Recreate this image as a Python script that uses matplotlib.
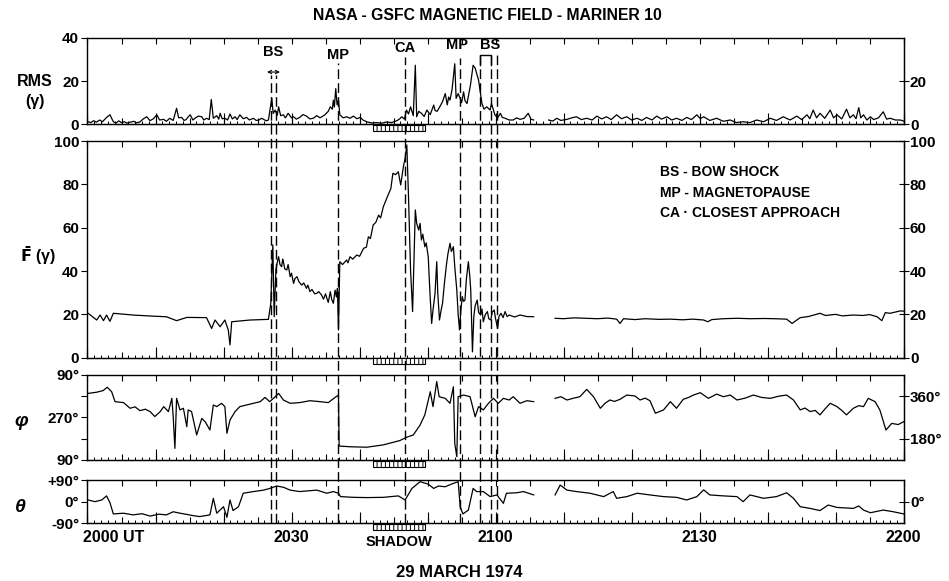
import numpy as np
import matplotlib.pyplot as plt
from matplotlib.ticker import MultipleLocator
from matplotlib.patches import Rectangle

plt.rcParams['font.family'] = ['Liberation Sans', 'DejaVu Sans']
plt.rcParams['font.weight'] = 'bold'
plt.rcParams['mathtext.fontset'] = 'dejavusans'
plt.rcParams['hatch.linewidth'] = 0.7

# --- data; time in minutes after 2000 UT ------------------------------------
rms_t = [0.1, 0.5, 0.9, 1.3, 1.8, 2.2, 2.8, 3.3, 3.8, 4.2, 4.6, 5.0, 5.4, 5.8,
         6.3, 6.8, 7.2, 7.7, 8.2, 8.7, 9.2, 9.7, 10.2, 10.6, 11.2, 11.6, 12.1,
         12.6, 13.1, 13.4, 13.85, 14.2, 14.5, 14.8, 15.1, 15.5, 15.8, 16.3,
         16.8, 17.1, 17.5, 17.9, 18.2, 18.5, 19.0, 19.3, 19.5, 19.8, 20.2,
         20.6, 20.95, 21.3, 21.7, 22.0, 22.4, 22.9, 23.4, 23.8, 24.4, 24.8,
         25.2, 25.6, 25.9, 26.3, 26.6, 27.1, 27.3, 27.6, 27.9, 28.1, 28.4,
         28.8, 29.1, 29.5, 30.0, 30.3, 30.7, 31.2, 31.7, 32.2, 32.7, 33.2,
         33.7, 34.2, 34.9, 35.4, 35.7, 36.0, 36.15, 36.3, 36.5, 36.7, 36.9,
         37.1, 37.6, 38.1, 38.6, 39.1, 39.6, 40.1, 40.5, 41.05, 41.8, 42.5,
         43.2, 44.0, 44.7, 45.5, 45.9, 46.2, 46.6, 46.9, 47.2, 47.5, 47.9,
         48.2, 48.4, 48.7, 49.1, 49.5, 49.9, 50.4, 50.9, 51.1, 51.4, 51.8,
         52.2, 52.6, 52.9, 53.1, 53.3, 53.6, 54.0, 54.2, 54.5, 54.8, 55.0,
         55.3, 55.5, 55.8, 56.3, 56.7, 57.0, 57.5, 58.0, 58.3, 58.7, 59.2,
         59.4, 59.9, 60.3, 60.7, 61.0, 61.4, 62.0, 62.6, 63.1, 63.6, 64.2,
         64.8, 65.2, 65.6, 66.0, 67.8, 68.4, 69.0, 69.6, 70.5, 71.2, 71.9,
         72.6, 73.4, 74.2, 74.9, 75.6, 76.3, 77.0, 77.8, 78.5, 79.3, 80.0,
         80.8, 81.5, 82.2, 83.0, 83.7, 84.4, 85.2, 85.9, 86.6, 87.4, 88.1,
         88.8, 89.6, 90.1, 90.6, 91.5, 92.5, 93.5, 94.5, 95.4, 96.4, 97.4,
         98.4, 99.4, 100.4, 101.3, 102.3, 103.3, 104.3, 105.0, 105.8, 106.2,
         106.7, 107.2, 107.7, 108.4, 109.2, 109.7, 110.2, 110.9, 111.6,
         112.1, 112.6, 113.0, 113.4, 113.7, 114.1, 114.6, 115.1, 115.6,
         116.3, 117.0, 117.5, 118.0, 118.8, 119.5, 120.0]
rms_v = [1.2, 0.8, 1.7, 1.0, 2.0, 1.2, 3.2, 4.4, 1.2, 0.6, 1.6, 0.8, 1.2, 0.6,
         1.0, 1.4, 0.7, 1.1, 2.5, 3.5, 1.7, 2.6, 4.4, 2.0, 2.3, 1.4, 2.8,
         1.8, 7.4, 3.0, 3.2, 1.8, 2.2, 3.4, 4.4, 2.0, 2.8, 3.8,
         3.5, 2.0, 2.8, 2.2, 11.5, 2.8, 4.0, 2.4, 5.1, 2.6, 2.8,
         2.0, 4.8, 2.5, 3.5, 2.2, 4.4, 2.6, 3.2, 2.0, 2.8, 1.8,
         2.0, 2.8, 2.3, 1.6, 2.0, 12.0, 5.0, 6.6, 4.2, 8.1, 4.0,
         4.4, 3.0, 5.1, 3.0, 3.5, 2.4, 3.2, 4.5, 3.8, 2.5, 2.8,
         4.0, 3.0, 4.4, 6.0, 8.1, 7.0, 11.2, 8.0, 16.5, 9.0, 11.2,
         4.4, 3.0, 3.5, 2.8, 3.8, 2.6, 3.2, 2.0, 1.2, 0.6, 0.8,
         0.5, 1.1, 0.8, 1.7, 2.5, 3.5, 2.4, 6.6, 4.8, 8.1, 4.0,
         27.3, 3.5, 6.0, 5.1, 3.6, 6.6, 4.5, 8.9, 6.4, 6.0, 8.1,
         10.5, 14.2, 9.0, 12.6, 11.2, 16.0, 28.0, 12.0, 14.2, 12.0, 10.0,
         15.0, 11.0, 9.6, 18.0, 27.3, 26.0, 20.4, 9.6, 7.0, 8.1, 6.6,
         9.6, 4.4, 3.0, 5.1, 3.2, 2.8, 2.0, 2.0, 3.0, 2.3, 2.8,
         5.1, 2.4, 2.0, np.nan, 2.0, 1.5, 2.8, 1.8, 2.3, 3.0, 3.5,
         2.2, 2.8, 2.0, 3.8, 2.5, 3.5, 2.2, 4.4, 2.6, 3.5, 2.0,
         2.8, 1.8, 3.2, 2.0, 3.8, 2.4, 3.5, 2.0, 2.8, 1.8, 3.2,
         2.2, 4.4, 2.6, 3.5, 1.8, 2.8, 1.4, 2.0, 0.8, 1.2, 0.8,
         2.0, 1.2, 2.8, 1.8, 3.5, 2.0, 3.8, 2.2, 4.4, 2.6,
         6.6, 3.0, 5.1, 2.8, 6.6, 3.0, 4.4, 2.5, 7.0,
         3.0, 4.4, 2.6, 7.7, 3.0, 4.4, 2.0, 3.5, 2.2,
         3.0, 5.8, 2.4, 2.8, 2.0, 2.0, 1.5]

f_t = [0.1, 1.35, 1.85, 2.35, 2.8, 3.3, 3.8, 6.7, 9.5, 11.6, 13.1, 14.6, 17.5,
       18.25, 18.75, 19.5, 20.2, 20.7, 20.95, 21.2, 23.9, 26.6, 26.95, 27.25,
       27.45, 27.7, 27.9, 28.1, 28.3, 28.55, 28.7, 28.8, 29.0, 29.3, 29.5,
       29.8, 30.0, 30.3, 30.5, 30.8, 31.1, 31.5, 31.8, 32.2, 32.4, 32.7,
       33.0, 33.4, 33.7, 34.0, 34.4, 34.7, 35.0, 35.2, 35.4, 35.7, 35.9,
       36.15, 36.3, 36.4, 36.6, 36.75, 36.9, 37.1, 37.5, 38.1, 38.3, 38.6,
       39.0, 39.6, 40.0, 40.6, 41.0, 41.3, 41.6, 42.0, 42.4, 42.8, 43.1,
       43.5, 44.2, 44.6, 44.9, 45.3, 45.7, 46.05, 46.45, 46.7, 46.95, 47.2,
       47.5, 47.8, 48.0, 48.2, 48.4, 48.7, 48.9, 49.1, 49.3, 49.6, 49.8,
       50.1, 50.35, 50.6, 50.8, 51.1, 51.35, 51.5, 51.75, 52.0, 52.2, 52.5,
       52.8, 53.0, 53.3, 53.5, 53.8, 54.0, 54.3, 54.5, 54.7, 54.9, 55.1,
       55.3, 55.5, 55.7, 56.0, 56.2, 56.35, 56.6, 56.8, 57.0, 57.3, 57.5,
       57.8, 58.0, 58.2, 58.5, 58.8, 59.0, 59.3, 59.5, 59.8, 60.0, 60.3,
       60.5, 60.8, 61.1, 61.4, 61.7, 62.0, 62.8, 63.6, 64.6, 65.6, 66.5,
       68.75, 70.0, 71.5, 73.4, 75.0, 76.5, 77.8, 78.3, 78.8, 80.5, 82.0,
       84.0, 85.7, 87.5, 89.0, 90.6, 91.2, 91.8, 93.5, 95.5, 97.5, 99.5,
       101.0, 102.8, 103.6, 104.2, 104.8, 106.0, 107.7, 108.5, 110.0,
       111.0, 112.6, 114.0, 115.0, 116.1, 116.8, 117.3, 118.0, 119.5, 120.0]
f_v = [20.5, 17.4, 19.7, 17.1, 19.7, 16.8, 20.5, 19.7, 19.2, 18.9, 17.1, 18.6, 18.5,
       13.5, 17.4, 14.3, 17.4, 12.8, 5.9, 16.6, 17.4, 17.7, 25.1, 52.1,
       18.9, 40.5, 44.0, 46.6, 43.0, 42.0, 45.5, 44.3, 41.0, 40.5, 43.0,
       37.4, 39.0, 34.3, 36.5, 37.4, 35.0, 33.5, 34.5, 32.0, 33.5, 30.5,
       31.5, 29.5, 29.7, 30.5, 29.0, 27.0, 29.5, 27.4, 25.5, 30.5, 27.0,
       25.1, 29.0, 31.2, 28.0, 32.0, 12.8, 44.3, 43.0, 45.1, 43.8, 46.6,
       45.5, 47.4, 46.8, 50.5, 51.0, 55.8, 55.0, 61.2, 62.5, 65.8, 64.5,
       69.7, 75.1, 78.0, 85.1, 84.5, 85.8, 79.7, 88.2, 92.0, 98.2, 74.3,
       40.5, 21.3, 45.0, 68.2, 62.0, 58.9, 62.0, 54.3, 57.0, 51.2, 53.0,
       46.6, 30.0, 15.8, 22.0, 29.7, 44.3, 30.0, 17.4, 22.0, 25.1, 35.0,
       43.5, 48.0, 52.8, 49.0, 51.2, 42.0, 31.2, 20.0, 12.8, 22.0, 28.2,
       26.0, 26.6, 36.0, 44.3, 38.0, 31.2, 2.7, 18.9, 24.0, 26.6, 21.0,
       19.7, 22.5, 16.6, 20.0, 21.3, 18.0, 17.4, 21.0, 22.0, 18.0, 13.5,
       19.0, 20.5, 18.5, 21.3, 19.0, 19.7, 18.8, 19.7, 19.0, 18.9, np.nan,
       18.2, 18.0, 18.4, 18.2, 18.0, 18.3, 17.8, 15.8, 18.0, 17.6, 18.0,
       17.7, 17.8, 17.5, 17.8, 17.4, 16.6, 17.6, 18.0, 18.2, 18.0, 18.1,
       18.0, 17.8, 15.8, 17.2, 18.5, 19.0, 20.5, 19.5, 20.0,
       19.3, 19.7, 19.5, 19.9, 18.9, 17.1, 20.8, 20.5, 21.6, 21.5]

phi_t = [0.1, 1.35, 2.3, 2.9, 3.55, 4.05, 5.3, 6.25, 7.0, 7.7, 8.5, 9.2, 9.9,
         10.7, 11.2, 11.9, 12.4, 12.6, 12.85, 13.1, 13.6, 14.1, 14.6, 14.8,
         15.3, 16.05, 16.8, 17.3, 18.0, 18.5, 19.0, 19.7, 20.2, 20.5, 20.95,
         21.7, 22.4, 23.4, 24.4, 25.4, 26.1, 26.8, 27.6, 28.1, 28.8, 29.8,
         31.2, 32.7, 34.2, 35.4, 36.4, 36.9, 37.0, 38.6, 41.05, 43.5, 45.9,
         46.9, 47.9, 48.9, 49.6, 50.4, 50.8, 51.35, 51.7, 52.6, 53.3, 53.8,
         54.0, 54.3, 54.5, 55.3, 56.25, 57.0, 57.5, 58.2, 58.95, 59.7, 60.4,
         61.15, 62.0, 62.6, 63.6, 64.6, 65.6, 66.0, 68.75, 69.6, 70.5, 71.5,
         72.4, 73.4, 74.4, 75.4, 76.1, 76.8, 77.5, 78.3, 79.3, 80.5, 81.25,
         82.0, 82.7, 83.5, 84.7, 85.7, 86.6, 87.6, 88.4, 89.1, 90.1, 91.3,
         92.5, 93.5, 94.5, 95.5, 96.7, 97.9, 99.1, 100.4, 101.6, 102.8,
         103.8, 104.8, 105.5, 106.25, 107.0, 107.7, 108.4, 109.2, 110.2,
         110.9, 111.6, 112.6, 113.4, 114.1, 114.8, 115.8, 116.5, 117.4,
         118.25, 119.2, 120.0]
phi_v = [372, 377, 384, 398, 379, 337, 333, 309, 315, 299, 305, 295, 274,
         295, 316, 295, 351, 274, 139, 351, 302, 309, 231, 302,
         295, 196, 266, 252, 217, 323, 316, 330, 316, 203, 259,
         295, 316, 323, 330, 337, 355, 337, 358, 372, 344, 330,
         333, 341, 337, 333, 355, 365, 149, 146, 144, 154, 172,
         186, 196, 238, 281, 379, 316, 422, 358, 351, 330, 400,
         160, 104, 358, 365, 358, 273, 316, 302, 330, 351, 330,
         351, 344, 358, 330, 341, 337, np.nan, 351, 358, 344, 352,
         358, 389, 358, 309, 330, 344, 338, 347, 365, 361, 344,
         352, 341, 288, 302, 337, 309, 347, 355, 365, 375, 351,
         369, 358, 365, 344, 352, 365, 355, 351, 360, 365,
         344, 302, 310, 295, 300, 281, 305, 330, 316,
         300, 281, 309, 320, 316, 351, 337, 302, 217,
         245, 240, 252]

theta_t = [0.1, 1.1, 2.1, 2.8, 3.3, 3.8, 5.3, 6.7, 8.0, 9.2, 10.5, 11.6, 12.6,
           13.6, 14.6, 15.5, 16.5, 18.0, 18.5, 19.0, 20.0, 20.5, 20.95, 21.4,
           22.2, 22.9, 24.4, 25.9, 26.8, 27.8, 28.8, 29.8, 31.2, 33.7, 35.2,
           36.15, 36.9, 37.2, 39.1, 41.05, 43.5, 45.7, 46.7, 47.7, 48.9, 50.1,
           50.9, 51.6, 52.6, 53.5, 54.5, 54.8, 55.2, 56.0, 56.7, 57.2, 58.2,
           59.2, 60.2, 61.15, 61.6, 63.1, 64.1, 65.6, 66.0, 68.75, 69.5, 70.5,
           71.9, 73.9, 75.9, 77.3, 77.8, 79.3, 80.8, 82.7, 84.7, 86.6, 88.1,
           89.6, 90.6, 91.5, 93.5, 95.5, 96.4, 97.4, 99.4, 101.3, 102.8,
           103.8, 104.8, 106.25, 107.7, 108.9, 110.2, 112.6, 113.4, 114.1,
           115.1, 117.0, 118.5, 120.0]
theta_v = [7, 0, 7, 24, -4, -51, -48, -55, -50, -60, -52, -55, -42,
           -48, -53, -58, -62, -55, 14, -48, -21, -65, 7, -37,
           -21, 35, 42, 48, 55, 65, 60, 48, 42, 48, 35,
           42, 35, 21, 18, 17, 18, 24, 7, 55, 83, 73,
           55, 65, 62, 73, 83, -21, -51, -35, 55, 42, 42,
           21, 28, -7, 35, 37, 42, 28, np.nan, 28, 69, 48,
           42, 35, 21, 42, 14, 21, 35, 28, 21, 18, 7,
           21, 49, 28, 24, 21, 0, 28, 14, 21, 37,
           14, -21, -28, -37, -14, -24, -28, -18, -35,
           -46, -35, -42, -51]

# boundary crossings (minutes after 2000 UT)
bs_in = [27.0, 27.7]
mp_in = 36.9
ca = 46.7
mp_out = 54.7
bs_out = [57.7, 59.3, 60.2]
shadow = (42.0, 49.6)

time_labels = ['2000 UT', '2030', '2100', '2130', '2200']
time_ticks = [0, 30, 60, 90, 120]

# --- layout -----------------------------------------------------------------
fig = plt.figure(figsize=(9.49, 5.81), dpi=100)
L, W = 0.0922, 0.860
ax_rms = fig.add_axes([L, 0.786, W, 0.149])
ax_f = fig.add_axes([L, 0.3843, W, 0.373])
ax_phi = fig.add_axes([L, 0.2083, W, 0.1463])
ax_th = fig.add_axes([L, 0.0993, W, 0.0745])
axes = [ax_rms, ax_f, ax_phi, ax_th]

ax_rms.plot(rms_t, rms_v, color='k', lw=0.9)
ax_f.plot(f_t, f_v, color='k', lw=0.9)
ax_phi.plot(phi_t, phi_v, color='k', lw=0.9)
ax_th.plot(theta_t, theta_v, color='k', lw=0.9)

TICK_FS = 11

for ax in axes:
    ax.set_xlim(0, 120)
    ax.xaxis.set_major_locator(MultipleLocator(5))
    ax.xaxis.set_minor_locator(MultipleLocator(1))
    ax.tick_params(axis='x', which='major', direction='in', length=4,
                   top=True, bottom=True, labelbottom=False, width=0.8)
    ax.tick_params(axis='x', which='minor', direction='in', length=2,
                   top=False, bottom=True, width=0.7)
    sec = ax.secondary_xaxis('bottom')
    sec.set_xticks(range(0, 121, 10))
    sec.tick_params(direction='in', length=8, labelbottom=False, width=0.8)
    ax.tick_params(axis='y', direction='out', length=4, labelsize=TICK_FS,
                   width=0.8, pad=2)
    for s in ax.spines.values():
        s.set_linewidth(1.0)


def right_ticks(ax, ticks, labels):
    sec = ax.secondary_yaxis('right')
    sec.set_yticks(ticks)
    sec.set_yticklabels(labels)
    sec.tick_params(direction='inout', length=7, labelsize=TICK_FS, width=0.8, pad=1)


ax_rms.set_ylim(0, 40)
ax_rms.set_yticks([0, 20, 40])
right_ticks(ax_rms, [0, 20], ['0', '20'])

ax_f.set_ylim(0, 100)
ax_f.set_yticks(range(0, 101, 20))
right_ticks(ax_f, range(0, 101, 20), [str(v) for v in range(0, 101, 20)])

ax_phi.set_ylim(90, 450)
ax_phi.set_yticks([90, 180, 270, 360, 450])
ax_phi.set_yticklabels(['90°', '', '270°', '', '90°'])
right_ticks(ax_phi, [180, 360], ['180°', '360°'])

ax_th.set_ylim(-90, 90)
ax_th.set_yticks([-90, 0, 90])
ax_th.set_yticklabels(['-90°', '0°', '+90°'])
right_ticks(ax_th, [0], ['0°'])

for t, lab in zip(time_ticks, time_labels):
    if t == 0:
        ax_th.text(t - 0.7, -0.16, lab, transform=ax_th.get_xaxis_transform(),
                   ha='left', va='top', fontsize=11.5)
    else:
        ax_th.text(t, -0.16, lab, transform=ax_th.get_xaxis_transform(),
                   ha='center', va='top', fontsize=11.5)

# axis names
fig.text(0.037, 0.859, 'RMS', ha='center', va='center', fontsize=11.5)
fig.text(0.037, 0.826, '(γ)', ha='center', va='center', fontsize=11.5)
fig.text(0.040, 0.561, r'$\bar{\mathbf{F}}$ (γ)', ha='center', va='center', fontsize=11.5)
fig.text(0.022, 0.274, 'φ', ha='center', va='center', fontsize=14, style='italic')
fig.text(0.022, 0.127, 'θ', ha='center', va='center', fontsize=14, style='italic')

fig.text(0.514, 0.974, 'NASA - GSFC MAGNETIC FIELD - MARINER 10',
         ha='center', va='center', fontsize=11.3)
fig.text(0.484, 0.014, '29 MARCH 1974', ha='center', va='center', fontsize=12)

# key
fig.text(0.6955, 0.704, 'BS - BOW SHOCK', ha='left', va='center', fontsize=10)
fig.text(0.6955, 0.668, 'MP - MAGNETOPAUSE', ha='left', va='center', fontsize=10)
fig.text(0.6955, 0.633, 'CA · CLOSEST APPROACH', ha='left', va='center', fontsize=10)

# overlay for crossing lines and shadow bars (y in figure fraction)
ov = fig.add_axes([L, 0, W, 1], zorder=10)
ov.set_xlim(0, 120)
ov.set_ylim(0, 1)
ov.axis('off')

dash = (0, (7, 3))
bottom = 0.0993
for t in bs_in:
    ov.vlines(t, bottom, 0.871, colors='k', linestyles=dash, lw=1)
ov.vlines(mp_in, bottom, 0.892, colors='k', linestyles=dash, lw=1)
ov.vlines(ca, bottom, 0.902, colors='k', linestyles=dash, lw=1)
ov.vlines(mp_out, bottom, 0.900, colors='k', linestyles=dash, lw=1)
for t in bs_out:
    ov.vlines(t, bottom, 0.905, colors='k', linestyles=dash, lw=1)

ov.text(np.mean(bs_in), 0.910, 'BS', ha='center', va='center', fontsize=10.5)
ov.text(mp_in, 0.905, 'MP', ha='center', va='center', fontsize=10.5)
ov.text(ca, 0.917, 'CA', ha='center', va='center', fontsize=10.5)
ov.text(mp_out - 0.4, 0.922, 'MP', ha='center', va='center', fontsize=10.5)
ov.text(bs_out[1] - 0.1, 0.922, 'BS', ha='center', va='center', fontsize=10.5)
ov.annotate('', xy=(bs_in[0] - 0.6, 0.876), xytext=(bs_in[1] + 0.6, 0.876),
            arrowprops=dict(arrowstyle='<->', lw=0.8, shrinkA=0, shrinkB=0,
                            mutation_scale=6))
ov.plot([bs_out[0], bs_out[0], bs_out[1], bs_out[1]],
        [0.888, 0.906, 0.906, 0.888], color='k', lw=1)

for yb in [0.786, 0.3843, 0.2083, 0.0993]:
    ov.add_patch(Rectangle((shadow[0], yb - 0.0115), shadow[1] - shadow[0], 0.0105,
                           facecolor='white', edgecolor='k', lw=0.8, hatch='||||'))
ov.text(np.mean(shadow), 0.067, 'SHADOW', ha='center', va='center', fontsize=10.5)

fig.savefig('out.png', dpi=100, facecolor='white')
